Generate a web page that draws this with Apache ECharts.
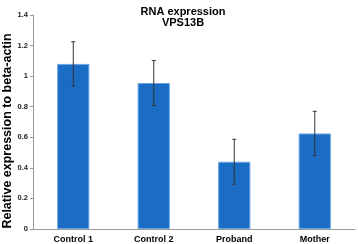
<!DOCTYPE html>
<html>
<head>
<meta charset="utf-8">
<script src="https://cdn.jsdelivr.net/npm/echarts@6/dist/echarts.min.js"></script>
<style>
  html, body { margin: 0; padding: 0; background: #fff; }
  #chart { width: 358px; height: 244px; }
</style>
</head>
<body>
<div id="chart"></div>
<script>
const categories = ['Control 1', 'Control 2', 'Proband', 'Mother']
const expression = [1.08, 0.955, 0.44, 0.625]
const errors = [0.145, 0.147, 0.147, 0.145]
const yTitle = 'Relative expression to beta-actin'

const chart = echarts.init(document.getElementById('chart'))

const option = {
  animation: false,
  title: {
    text: 'RNA expression\nVPS13B',
    left: 178,
    textAlign: 'center',
    top: 1,
    textStyle: {
      fontFamily: 'Liberation Sans',
      fontWeight: 'bold',
      fontSize: 11,
      lineHeight: 11,
      color: '#000'
    }
  },
  graphic: [{
    type: 'text',
    x: 8,
    y: 131,
    rotation: Math.PI / 2,
    style: {
      text: yTitle,
      fontFamily: 'Liberation Sans',
      fontWeight: 'bold',
      fontSize: 12.5,
      fill: '#000',
      align: 'center',
      verticalAlign: 'middle'
    }
  }],
  grid: { left: 33, right: 3, top: 15, bottom: 14 },
  xAxis: {
    type: 'category',
    data: categories,
    axisLine: { lineStyle: { color: '#999' } },
    axisTick: { lineStyle: { color: '#999' }, length: 3 },
    axisLabel: {
      fontFamily: 'Liberation Sans',
      fontWeight: 'bold',
      fontSize: 9,
      color: '#000',
      margin: 6
    }
  },
  yAxis: {
    type: 'value',
    min: 0,
    max: 1.4,
    interval: 0.2,
    axisLine: { show: true, lineStyle: { color: '#999' } },
    axisTick: { show: true, inside: false, length: 3, lineStyle: { color: '#999' } },
    splitLine: { show: false },
    axisLabel: {
      fontFamily: 'Liberation Sans',
      fontWeight: 'bold',
      fontSize: 7.5,
      color: '#222',
      margin: 5,
      formatter: v => String(Math.round(v * 10) / 10)
    }
  },
  series: [
    {
      type: 'bar',
      data: expression,
      barWidth: '40%',
      itemStyle: {
        color: '#1a6cc4',
        borderColor: '#6aa6e6',
        borderWidth: 1
      }
    },
    {
      type: 'custom',
      data: expression.map((v, i) => [i, v - errors[i], v + errors[i]]),
      renderItem: (params, api) => {
        const lo = api.coord([api.value(0), api.value(1)])
        const hi = api.coord([api.value(0), api.value(2)])
        const x = lo[0]
        const cap = 2
        const style = { stroke: '#333', lineWidth: 1 }
        return {
          type: 'group',
          children: [
            { type: 'line', shape: { x1: x, y1: lo[1], x2: x, y2: hi[1] }, style },
            { type: 'line', shape: { x1: x - cap, y1: lo[1], x2: x + cap, y2: lo[1] }, style },
            { type: 'line', shape: { x1: x - cap, y1: hi[1], x2: x + cap, y2: hi[1] }, style }
          ]
        }
      },
      z: 10
    }
  ]
}

chart.setOption(option)
</script>
</body>
</html>
